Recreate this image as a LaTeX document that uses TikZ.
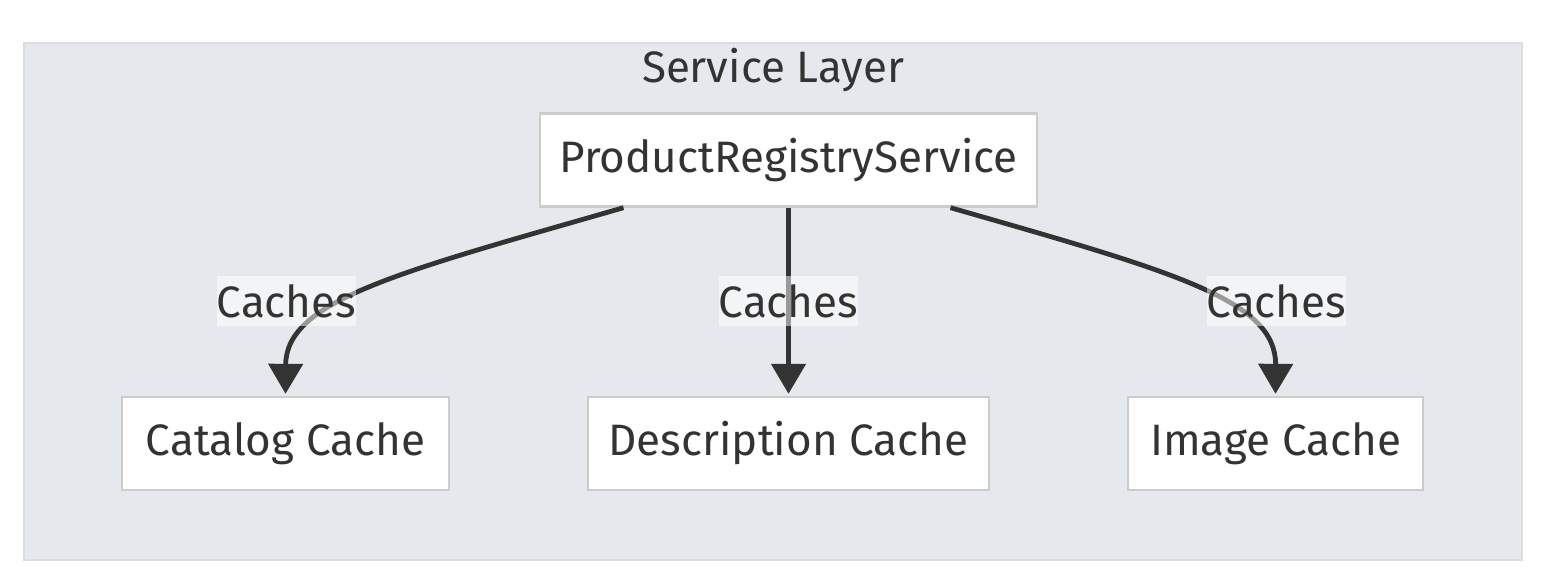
\documentclass[tikz,border=0pt]{standalone}
\usepackage{fontspec}
\setmainfont{Fira Sans}
\usetikzlibrary{arrows.meta}
\definecolor{ink}{HTML}{333333}
\definecolor{layerbg}{HTML}{E5E9EE}
\definecolor{layerline}{HTML}{DDDDDD}
\definecolor{boxline}{HTML}{CCCCCC}
\tikzset{
  svcbox/.style={draw=boxline, line width=1.2pt, fill=white, text=ink, font=\fontsize{22}{26}\selectfont, minimum height=46.5pt, inner sep=0pt},
  cachelink/.style={draw=ink, line width=2.4pt, -{Triangle[length=15pt,width=17pt]}, shorten >=1pt},
  linklabel/.style={fill=white, fill opacity=0.5, text opacity=1, text=ink, font=\fontsize{22}{26}\selectfont, minimum width=69pt, minimum height=25pt, inner sep=0pt}
}
\begin{document}
\begin{tikzpicture}[x=0.5pt, y=-0.5pt]
\useasboundingbox (0,0) rectangle (1546,584);
\draw [draw=layerline, fill=layerbg, line width=1.2pt] (24,43) rectangle (1522,560);
\node (layer) [text=ink, font=\fontsize{22}{26}\selectfont] at (773,70) {Service Layer};
\node (registry) [svcbox, minimum width=248.5pt] at (788.5,160) {ProductRegistryService};
\node (catalog) [svcbox, minimum width=163.5pt] at (285.5,443.5) {Catalog Cache};
\node (descr) [svcbox, minimum width=200.5pt] at (788.5,443.5) {Description Cache};
\node (image) [svcbox, minimum width=147.5pt] at (1275.5,443.5) {Image Cache};
\draw [cachelink] ([xshift=-82.5pt]registry.south) .. controls (400,272) and (286,300) .. (catalog.north);
\draw [cachelink] (registry.south) -- (descr.north);
\draw [cachelink] ([xshift=81pt]registry.south) .. controls (1175,272) and (1276,300) .. (image.north);
\node (lblcat) [linklabel] at (286.5,301) {Caches};
\node (lbldescr) [linklabel] at (788.5,301) {Caches};
\node (lblimage) [linklabel] at (1276.5,301) {Caches};
\end{tikzpicture}
\end{document}
